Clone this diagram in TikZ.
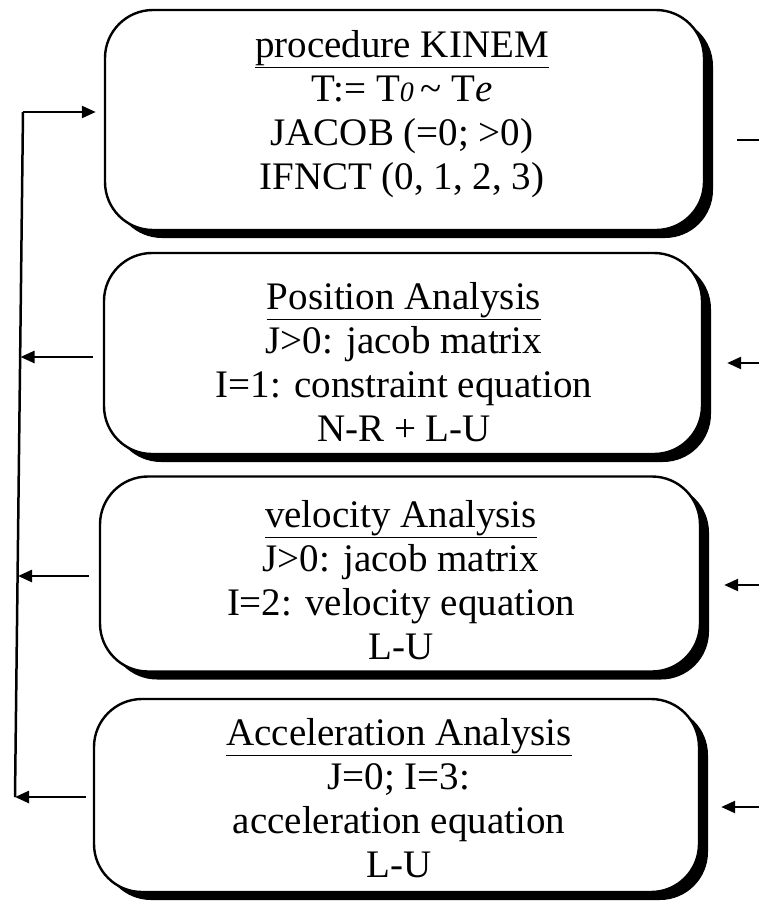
\documentclass[tikz,border=0pt]{standalone}
\usepackage{fontspec}
\setmainfont{Liberation Serif}
\usetikzlibrary{arrows.meta,shadows}
\begin{document}
\begin{tikzpicture}[x=1pt,y=-1pt,
  box/.style={draw=black, line width=2.4pt, rounded corners=48pt, fill=white,
    inner sep=0pt,
    drop shadow={shadow xshift=9pt, shadow yshift=-8pt, fill=black, opacity=1}},
  txt/.style={align=center, inner sep=0pt, font=\fontsize{39}{44}\selectfont},
  arr/.style={line width=2.5pt, -{Triangle[length=14pt,width=12pt]}},
  ln/.style={line width=2.5pt}]
\useasboundingbox (0,0) rectangle (759,908);

\node[box, minimum width=599pt, minimum height=220pt] (b1) at (404.5,120) {};
\node[box, minimum width=598pt, minimum height=201pt] (b2) at (403,353.5) {};
\node[box, minimum width=600pt, minimum height=195pt] (b3) at (400,574) {};
\node[box, minimum width=605pt, minimum height=193pt] (b4) at (396.5,795.5) {};

\node[txt] (t1) at (402,114)
  {\underline{procedure KINEM}\\ T:= T{\fontsize{28}{28}\selectfont\itshape 0}\,\textasciitilde\ T\textit{e}\\ JACOB (=0; >0)\\ IFNCT (0, 1, 2, 3)};
\node[txt] (t2) at (404,362)
  {\underline{Position Analysis}\\ J>0: jacob matrix\\ I=1: constraint equation\\ N-R + L-U};
\node[txt] (t3) at (401,580)
  {\underline{velocity Analysis}\\ J>0: jacob matrix\\ I=2: velocity equation\\ L-U};
\node[txt] (t4) at (399,798)
  {\underline{Acceleration Analysis}\\ J=0; I=3:\\ acceleration equation\\ L-U};

% left feedback bus
\coordinate (ltop) at (23,112);
\coordinate (lbot) at (15,797);
\coordinate (l2) at (20.5,357);
\coordinate (l3) at (18,576);
\draw[ln] (lbot) -- (ltop);
\draw[arr] (ltop) -- ([xshift=-8pt]b1.west |- ltop);
\draw[arr] ([xshift=-10pt]b2.west |- l2) -- (l2);
\draw[arr] ([xshift=-10pt]b3.west |- l3) -- (l3);
\draw[arr] ([xshift=-7pt]b4.west |- lbot) -- (lbot);

% right side incoming
\coordinate (r1) at (759,140);
\coordinate (r2) at (759,363);
\coordinate (r3) at (759,585);
\coordinate (r4) at (759,807);
\draw[ln] ([xshift=32pt]b1.east |- r1) -- (r1);
\draw[arr] (r2) -- ([xshift=24pt]b2.east |- r2);
\draw[arr] (r3) -- ([xshift=23pt]b3.east |- r3);
\draw[arr] (r4) -- ([xshift=21pt]b4.east |- r4);
\end{tikzpicture}
\end{document}
